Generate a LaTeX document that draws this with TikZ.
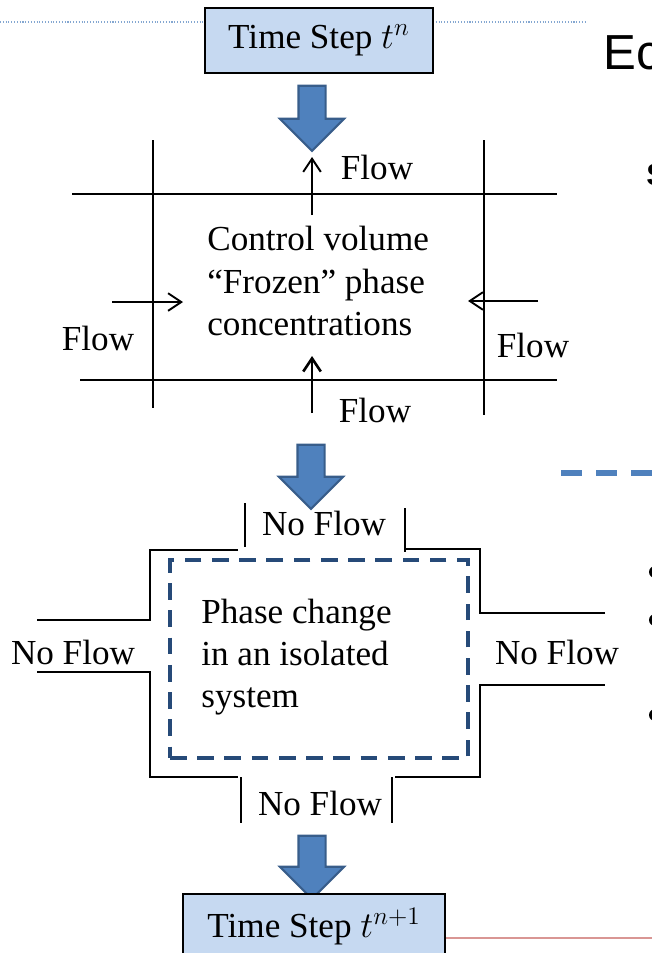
\documentclass[tikz,border=0pt]{standalone}
\usepackage{fontspec}
\setmainfont{Liberation Serif}
\newfontfamily\slidesans{Liberation Sans}
\usepackage{tikz}
\usetikzlibrary{shapes,arrows.meta,positioning,calc}
\definecolor{boxblue}{RGB}{198,217,241}
\definecolor{arrowblue}{RGB}{79,129,189}
\definecolor{arrowedge}{RGB}{56,93,138}
\definecolor{isoblue}{RGB}{38,74,120}
\definecolor{slidered}{RGB}{217,150,148}
\tikzset{
    stepbox/.style={draw, line width=1.5pt, fill=boxblue, minimum height=1.3cm, inner sep=2pt, txt},
    bigarrow/.style={single arrow, draw=arrowedge, fill=arrowblue, line width=1.2pt, rotate=-90,
                     single arrow head extend=0.37cm, inner xsep=0pt, inner ysep=0.25cm},
    wall/.style={line width=0.9pt},
    flow/.style={line width=1.1pt, -{Straight Barb[length=7.5pt,width=10pt]}},
    txt/.style={font=\fontsize{20}{24}\selectfont},
    isolated/.style={draw=isoblue, line width=2.1pt, dash pattern=on 9.5pt off 6pt},
}

\begin{document}
\begin{tikzpicture}[x=0.02cm, y=-0.02cm]
    \useasboundingbox (0,0) rectangle (652,953);

    % Slide leftovers on the right
    \draw[arrowblue!70, densely dotted, line width=0.6pt] (0,22) -- (585,22);
    \draw[slidered, line width=1.1pt] (445,938) -- (652,938);
    \node[anchor=base west, inner sep=0, font=\slidesans\fontsize{28}{30}\selectfont] (eq) at (603,70) {Ec};
    \node[anchor=base west, inner sep=0, font=\slidesans\bfseries\fontsize{17.5}{20}\selectfont] (sq) at (646,185) {S};
    \draw[arrowblue, line width=3.4pt, dash pattern=on 12pt off 8pt] (561,473) -- (652,473);
    \foreach \y in {572,620,715}
        \fill (655,\y) circle (0.12cm);

    % Time step n
    \node[stepbox, minimum width=4.56cm] (tn) at (319,40.5) {Time Step $t^{n}$};
    \node[bigarrow, minimum height=1.3cm] (a1) at (312,111.5) {};

    % Control volume grid
    \draw[wall] (72,194) -- (557,194);
    \draw[wall] (80,380) -- (557,380);
    \draw[wall] (153,140) -- (153,408);
    \draw[wall] (484,140) -- (484,415);
    \node[txt, align=left, anchor=west, inner sep=0] (cv) at (207,281)
        {Control volume\\“Frozen” phase\\concentrations};

    % Flow in and out
    \coordinate (ft0) at (312,215);  \coordinate (ft1) at (312,157);
    \coordinate (fl0) at (112,302);  \coordinate (fl1) at (183,302);
    \coordinate (fr0) at (538,301);  \coordinate (fr1) at (468,301);
    \coordinate (fb0) at (312,413);  \coordinate (fb1) at (312,356);
    \draw[flow] (ft0) -- (ft1);
    \draw[flow] (fl0) -- (fl1);
    \draw[flow] (fr0) -- (fr1);
    \draw[flow, line width=1.5pt] (fb0) -- (fb1);
    \node[txt] (flowT) at (377,167) {Flow};
    \node[txt] (flowL) at (98,338) {Flow};
    \node[txt] (flowR) at (533,345) {Flow};
    \node[txt] (flowB) at (375,410) {Flow};

    \node[bigarrow, minimum height=1.28cm] (a2) at (311,470) {};

    % Isolated system
    \draw[wall] (245,503) -- (245,547);
    \draw[wall] (238,550) -- (150,550) -- (150,620) -- (37,620);
    \draw[wall] (37,672) -- (150,672) -- (150,777) -- (238,777);
    \draw[wall] (241,777) -- (241,823);
    \draw[wall] (392,777) -- (392,823);
    \draw[wall] (395,777) -- (480,777) -- (480,685) -- (605,685);
    \draw[wall] (605,613) -- (480,613) -- (480,549) -- (405,549);
    \draw[wall] (405,508) -- (405,552);
    \node[isolated, minimum width=5.96cm, minimum height=3.96cm] (iso) at (319,659) {};
    \node[txt, align=left, anchor=west, inner sep=0] (pc) at (201,657)
        {Phase change\\in an isolated\\system};
    \node[txt] (nfT) at (324,523) {No Flow};
    \node[txt] (nfL) at (73,652) {No Flow};
    \node[txt] (nfR) at (557,652) {No Flow};
    \node[txt] (nfB) at (320,803) {No Flow};

    % Time step n+1
    \node[bigarrow, minimum height=1.26cm] (a3) at (312,860.5) {};
    \node[stepbox, minimum width=5.24cm] (tn1) at (314,926.5) {Time Step $t^{n+1}$};
\end{tikzpicture}
\end{document}
